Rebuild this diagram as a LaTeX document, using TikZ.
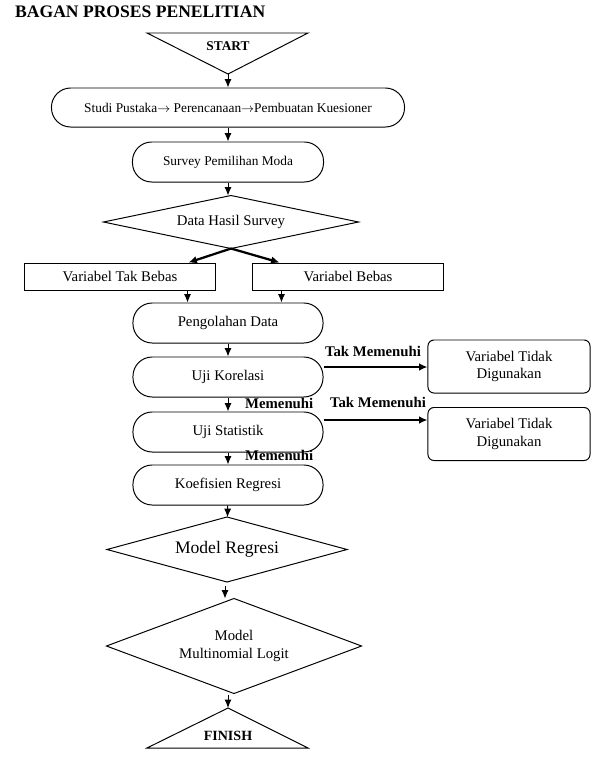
\documentclass[tikz,border=0pt]{standalone}
\usepackage{fontspec}
\setmainfont{Liberation Serif}
\usetikzlibrary{arrows.meta,shapes.geometric,calc,positioning}

\begin{document}
\begin{tikzpicture}[x=0.025cm, y=-0.025cm, line width=0.7pt,
        oval/.style={draw, rounded corners=0.48cm, minimum width=4.75cm, minimum height=1cm, inner sep=0pt, font=\fontsize{10.5}{12}\selectfont},
        kotak/.style={draw, minimum width=4.75cm, minimum height=0.675cm, inner sep=0pt, font=\fontsize{10.5}{12}\selectfont},
        kotakr/.style={draw, rounded corners=0.15cm, minimum width=4.05cm, minimum height=1.325cm, inner sep=0pt, align=center, font=\fontsize{10.5}{12.5}\selectfont},
        belah/.style={draw, diamond, inner sep=0pt, outer sep=0pt, align=center},
        panah/.style={-{Latex[length=6pt,width=5pt]}},
        panahtebal/.style={-{Latex[length=6pt,width=5.5pt]}, line width=1.6pt},
        ket/.style={font=\bfseries\fontsize{10.5}{12}\selectfont}]
        \useasboundingbox (0,0) rectangle (594,759);
        \node[anchor=west, font=\bfseries\fontsize{12.5}{15}\selectfont] (judul) at (10,12) {BAGAN PROSES PENELITIAN};
        \coordinate (start-ujung) at (228,74);
        \draw (147,33) -- (308,33) -- (start-ujung) -- cycle;
        \node[font=\bfseries\fontsize{9.5}{11}\selectfont] (start) at (228,46) {START};
        \node[oval, minimum width=8.825cm, minimum height=0.975cm, font=\fontsize{9.5}{11}\selectfont] (studi) at (228,107.5) {Studi Pustaka$\rightarrow$ Perencanaan$\rightarrow$Pembuatan Kuesioner};
        \node[oval, minimum width=4.775cm, font=\fontsize{9.5}{11}\selectfont] (survey) at (228,162) {Survey Pemilihan Moda};
        \node[belah, minimum width=6.375cm, minimum height=1.325cm, aspect=4.8, font=\fontsize{10.5}{12}\selectfont] (data) at (231,222) {Data Hasil Survey};
        \node[kotak] (takbebas) at (120,276.5) {Variabel Tak Bebas};
        \node[kotak] (bebas) at (348,276.5) {Variabel Bebas};
        \node[oval] (olah) at (228,323) {Pengolahan Data};
        \node[oval] (korelasi) at (228,377) {Uji Korelasi};
        \node[oval] (statistik) at (228,432) {Uji Statistik};
        \node[oval] (koefisien) at (228,485) {Koefisien Regresi};
        \node[kotakr] (tidak1) at (509,366.5) {Variabel Tidak\\Digunakan};
        \node[kotakr] (tidak2) at (509,434) {Variabel Tidak\\Digunakan};
        \node[belah, minimum width=6cm, minimum height=1.625cm, aspect=3.7, font=\fontsize{12.5}{15}\selectfont] (regresi) at (227,549.5) {Model Regresi};
        \node[belah, minimum width=6.375cm, minimum height=2.375cm, aspect=2.7, font=\fontsize{10.5}{12.5}\selectfont] (multi) at (234,646) {Model\\Multinomial Logit};
        \coordinate (finish-ujung) at (228,708);
        \draw (finish-ujung) -- (308,748) -- (147,748) -- cycle;
        \node[font=\bfseries\fontsize{10}{12}\selectfont] (finish) at (228,736) {FINISH};
        \node[ket, anchor=west] (m1) at (240,403) {Memenuhi};
        \node[ket, anchor=west] (m2) at (240,455) {Memenuhi};
        \node[ket] (tm1) at (373,351) {Tak Memenuhi};
        \node[ket] (tm2) at (378,402) {Tak Memenuhi};
        \draw[panah] (start-ujung) -- (studi);
        \draw[panah] (studi) -- (survey);
        \draw[panah] (survey.south) -- (survey.south |- data.north);
        \draw[panahtebal] (data.south) -- ($(takbebas.north east)+(-27,0)$);
        \draw[panahtebal] (data.south) -- ($(bebas.north west)+(27,0)$);
        \coordinate (tb) at ($(takbebas.south east)+(-28,0)$);
        \coordinate (b) at ($(bebas.south west)+(29,0)$);
        \draw[panah] (tb) -- (tb |- olah.north);
        \draw[panah] (b) -- (b |- olah.north);
        \draw[panah] (olah) -- (korelasi);
        \draw[panah] (korelasi) -- (statistik);
        \draw[panah] (statistik) -- (koefisien);
        \draw[panah] (koefisien) -- (regresi);
        \draw[panah] (regresi.south) ++(-2,4) coordinate (r-out) -- (r-out |- multi.north);
        \draw[panah] (finish-ujung |- multi.south) ++(0,1) -- (finish-ujung);
        \draw[panahtebal] (korelasi.east) ++(0,-10) coordinate (k-out) -- (k-out -| tidak1.west);
        \draw[panahtebal] (statistik.east) ++(0,-12) coordinate (s-out) -- (s-out -| tidak2.west);
\end{tikzpicture}
\end{document}
